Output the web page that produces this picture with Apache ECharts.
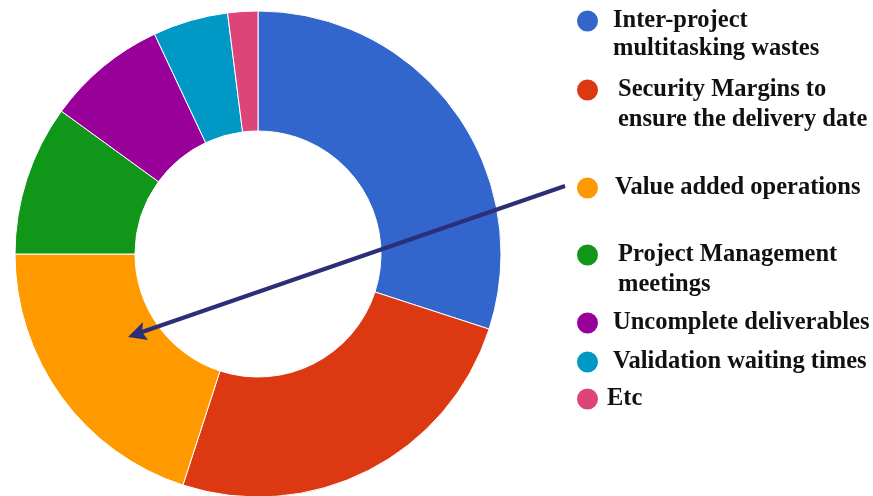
<!DOCTYPE html>
<html lang="en">
<head>
    <meta charset="UTF-8">
    <title>Wastes Donut</title>
    <script src="https://cdn.jsdelivr.net/npm/echarts@6/dist/echarts.min.js"></script>
    <style>
        html, body { margin: 0; padding: 0; background: #fff; }
        #chart-container { width: 873px; height: 496px; }
    </style>
</head>
<body>
    <div id="chart-container"></div>
    <script>
        // data (share of the ring, in %)
        const categories = [
            'Inter-project\nmultitasking wastes',
            'Security Margins to\nensure the delivery date',
            'Value added operations',
            'Project Management\nmeetings',
            'Uncomplete deliverables',
            'Validation waiting times',
            'Etc'
        ];
        const shares = [30, 25, 20, 10, 8, 5, 2];
        const colors = ['#3366cc', '#dc3912', '#ff9900', '#109618', '#990099', '#0099c6', '#dd4477'];

        // legend placement: circle centre y, line height, text indent
        const legendCy = [21, 90, 188, 255, 323, 362, 399];
        const legendLine = [28, 30, 29, 30, 29, 29, 29];
        const legendIndent = [9, 14, 11, 14, 9, 9, 3];

        const ICON = 23;
        const ARROW = '#2b2f77';

        const legends = categories.map((name, i) => {
            const L = legendLine[i];
            const multi = name.indexOf('\n') >= 0;
            // a blank first line keeps the first real line level with the circle
            const boxHalf = multi ? 1.5 * L : Math.max(L, ICON) / 2;
            return {
                data: [name],
                formatter: n => (multi ? '\n' + n : n),
                left: 575,
                top: legendCy[i] - boxHalf,
                orient: 'vertical',
                padding: 0,
                icon: 'circle',
                itemWidth: ICON,
                itemHeight: ICON,
                selectedMode: false,
                textStyle: {
                    fontFamily: '"Liberation Serif", "Times New Roman", serif',
                    fontWeight: 'bold',
                    fontSize: 24.5,
                    lineHeight: L,
                    color: '#111',
                    padding: [0, 0, 0, legendIndent[i]]
                }
            };
        });

        const myChart = echarts.init(document.getElementById('chart-container'), null, { renderer: 'canvas' });
        const option = {
            animation: false,
            color: colors,
            legend: legends,
            series: [{
                type: 'pie',
                center: [258, 254],
                radius: [123, 243],
                startAngle: 90,
                clockwise: true,
                label: { show: false },
                labelLine: { show: false },
                emphasis: { disabled: true },
                itemStyle: { borderColor: '#fff', borderWidth: 1 },
                data: categories.map((name, i) => ({ name: name, value: shares[i] }))
            }],
            graphic: [
                {
                    type: 'line',
                    z: 100,
                    shape: { x1: 565, y1: 186, x2: 142, y2: 332 },
                    style: { stroke: ARROW, lineWidth: 4 }
                },
                {
                    type: 'polygon',
                    z: 100,
                    shape: { points: [[128, 337], [143, 322], [142, 332], [148, 340]] },
                    style: { fill: ARROW }
                }
            ]
        };
        myChart.setOption(option);
    </script>
</body>
</html>
